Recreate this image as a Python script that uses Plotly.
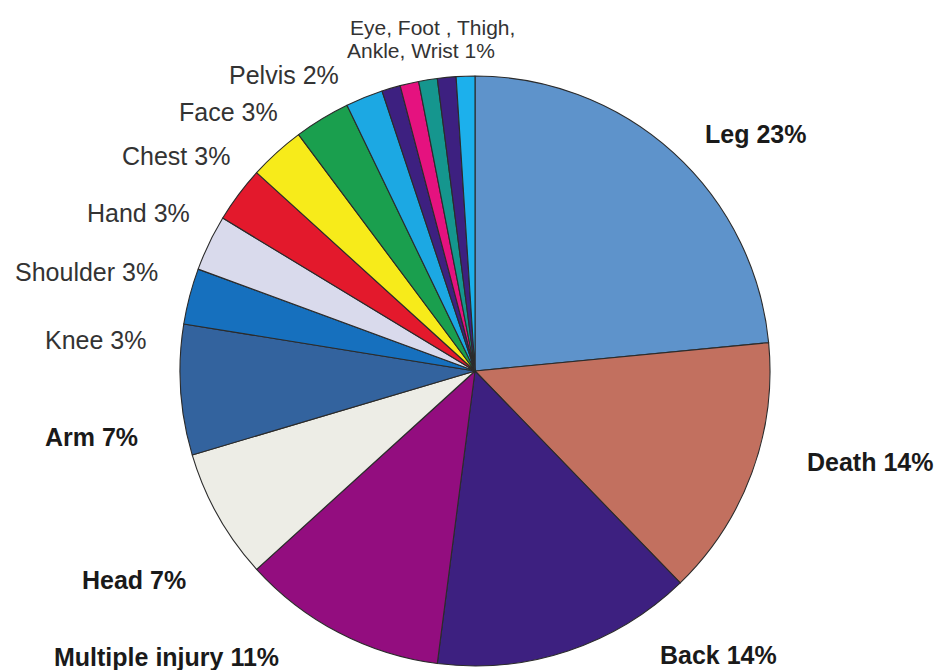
import plotly.graph_objects as go

# Injury categories, clockwise from 12 o'clock
categories = [
    "Leg", "Death", "Back", "Multiple injury", "Head", "Arm",
    "Knee", "Shoulder", "Hand", "Chest", "Face", "Pelvis",
    "Eye", "Foot", "Thigh", "Ankle", "Wrist",
]
percent = [23, 14, 14, 11, 7, 7, 3, 3, 3, 3, 3, 2, 1, 1, 1, 1, 1]
colors = [
    "#5E93CB", "#C2705F", "#3D2080", "#930D7F", "#EDEDE6", "#33639E",
    "#1670BE", "#D9DAEC", "#E3192C", "#F7EB1A", "#1A9F4E", "#1CA8E3",
    "#3D2080", "#E5127F", "#15968E", "#3D2080", "#1CB0EC",
]

# Label text for each category group
major = {"Leg", "Death", "Back", "Multiple injury", "Head", "Arm"}
small_group = ["Eye", "Foot", "Thigh", "Ankle", "Wrist"]
small_lines = ["Eye, Foot , Thigh,", "Ankle, Wrist 1%"]

W, H = 939, 670
CX, CY, R = 475, 371, 295

fig = go.Figure(go.Pie(
    labels=categories,
    values=percent,
    marker=dict(colors=colors, line=dict(color="#2b2b2b", width=1.1)),
    sort=False,
    direction="clockwise",
    rotation=0,
    textinfo="none",
    hoverinfo="label+percent",
    showlegend=False,
    domain=dict(x=[(CX - R) / W, (CX + R) / W],
                y=[1 - (CY + R) / H, 1 - (CY - R) / H]),
))

# Label placement in pixels: (left edge, vertical centre)
label_pos = {
    "Leg": (703, 134),
    "Death": (805, 462),
    "Back": (658, 655),
    "Multiple injury": (52, 657),
    "Head": (80, 580),
    "Arm": (43, 437),
    "Knee": (43, 340),
    "Shoulder": (13, 272),
    "Hand": (85, 213),
    "Chest": (120, 156),
    "Face": (177, 112),
    "Pelvis": (227, 75),
}
small_pos = [(348, 28), (345, 51)]

annotations = []
for name, val in zip(categories, percent):
    if name in small_group:
        continue
    px, py = label_pos[name]
    bold = name in major
    annotations.append(dict(
        x=px / W, y=1 - py / H, xref="paper", yref="paper",
        xanchor="left", yanchor="middle", showarrow=False,
        text=(f"<b>{name} {val}%</b>" if bold else f"{name} {val}%"),
        font=dict(family="Liberation Sans, Arial, sans-serif", size=25,
                  color="#1a1a1a" if bold else "#333333"),
    ))
for line, (px, py) in zip(small_lines, small_pos):
    annotations.append(dict(
        x=px / W, y=1 - py / H, xref="paper", yref="paper",
        xanchor="left", yanchor="middle", showarrow=False, text=line,
        font=dict(family="Liberation Sans, Arial, sans-serif", size=21,
                  color="#333333"),
    ))

fig.update_layout(
    width=W, height=H,
    margin=dict(l=0, r=0, t=0, b=0),
    paper_bgcolor="white",
    plot_bgcolor="white",
    annotations=annotations,
)

fig.write_html("out.html")
